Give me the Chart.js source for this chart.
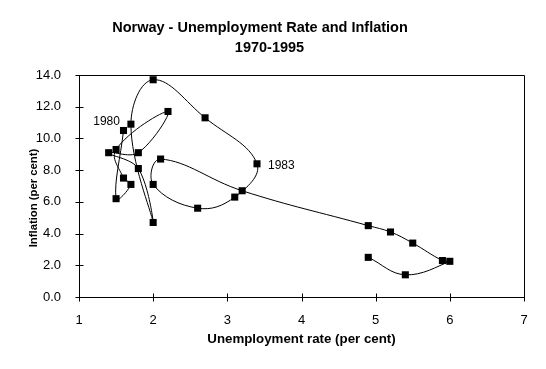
<!DOCTYPE html>
<html>
<head>
<meta charset="utf-8">
<script src="https://cdn.jsdelivr.net/npm/chart.js@4"></script>
<style>
html,body{margin:0;padding:0;background:#fff;}
#wrap{width:546px;height:369px;}
</style>
</head>
<body>
<div id="wrap"><canvas id="c" width="546" height="369"></canvas></div>
<script>
const years = [1970,1971,1972,1973,1974,1975,1976,1977,1978,1979,1980,1981,1982,1983,1984,1985,1986,1987,1988,1989,1990,1991,1992,1993,1994,1995];
const unemployment = [1.6,1.5,1.7,1.6,1.5,2.2,1.8,1.4,1.8,2.0,1.7,2.0,2.7,3.4,3.1,2.6,2.0,2.1,3.2,4.9,5.2,5.5,5.9,6.0,5.4,4.9];
const inflation = [10.5,6.2,7.1,7.5,9.3,11.7,9.1,9.1,8.1,4.7,10.9,13.7,11.3,8.4,6.3,5.6,7.1,8.7,6.7,4.5,4.1,3.4,2.3,2.25,1.4,2.5];
const labelledYears = [1980, 1983];
const xTicks = [1,2,3,4,5,6,7];
const yTicks = [0,2,4,6,8,10,12,14];
const titleLines = ["Norway - Unemployment Rate and Inflation", "1970-1995"];
const xTitle = "Unemployment rate (per cent)";
const yTitle = "Inflation (per cent)";

const points = years.map((y, i) => ({x: unemployment[i], y: inflation[i]}));
const FONT = "'Liberation Sans', Arial, sans-serif";

const decor = {
  id: 'decor',
  beforeDatasetsDraw(chart) {
    const ctx = chart.ctx;
    const xs = chart.scales.x, ys = chart.scales.y;
    const L = Math.round(xs.getPixelForValue(1)) + 0.5;
    const R = Math.round(xs.getPixelForValue(7)) + 0.5;
    const T = Math.round(ys.getPixelForValue(14)) + 0.5;
    const B = Math.round(ys.getPixelForValue(0)) + 0.5;
    ctx.save();
    ctx.strokeStyle = '#000';
    ctx.lineWidth = 1;
    ctx.beginPath();
    ctx.rect(L, T, R - L, B - T);
    xTicks.forEach(v => {
      const px = Math.round(xs.getPixelForValue(v)) + 0.5;
      ctx.moveTo(px, B - 4); ctx.lineTo(px, B + 4);
    });
    yTicks.forEach(v => {
      const py = Math.round(ys.getPixelForValue(v)) + 0.5;
      ctx.moveTo(L - 4, py); ctx.lineTo(L + 4, py);
    });
    ctx.stroke();
    ctx.restore();
  },
  afterDraw(chart) {
    const ctx = chart.ctx;
    const xs = chart.scales.x, ys = chart.scales.y;
    ctx.save();
    ctx.fillStyle = '#000';
    // title
    ctx.font = "bold 14.5px " + FONT;
    ctx.textAlign = 'center';
    ctx.textBaseline = 'alphabetic';
    ctx.fillText(titleLines[0], 260, 32);
    ctx.fillText(titleLines[1], 269.5, 52);
    // x title
    ctx.font = "bold 13.3px " + FONT;
    ctx.fillText(xTitle, (chart.chartArea.left + chart.chartArea.right) / 2, 343);
    // y title
    ctx.save();
    ctx.translate(37, 198);
    ctx.rotate(-Math.PI / 2);
    ctx.font = "bold 11.3px " + FONT;
    ctx.fillText(yTitle, 0, 0);
    ctx.restore();
    // year annotations
    ctx.font = "12px " + FONT;
    labelledYears.forEach(yr => {
      const i = years.indexOf(yr);
      const px = xs.getPixelForValue(unemployment[i]);
      const py = ys.getPixelForValue(inflation[i]);
      if (yr === 1980) {
        ctx.textAlign = 'right';
        ctx.fillText(String(yr), px - 11, py + 1);
      } else {
        ctx.textAlign = 'left';
        ctx.fillText(String(yr), px + 11, py + 5);
      }
    });
    ctx.restore();
  }
};

new Chart(document.getElementById('c'), {
  type: 'scatter',
  data: {
    datasets: [{
      data: points,
      showLine: true,
      tension: 0.4,
      borderColor: '#000',
      borderWidth: 1,
      pointStyle: 'rect',
      pointRadius: 5,
      pointBorderWidth: 0,
      pointBackgroundColor: '#000',
      pointBorderColor: '#000',
      fill: false
    }]
  },
  options: {
    responsive: false,
    animation: false,
    events: [],
    layout: {padding: {left: 0, top: 75, right: 22, bottom: 0}},
    plugins: {legend: {display: false}, tooltip: {enabled: false}, title: {display: false}},
    scales: {
      x: {
        type: 'linear', min: 1, max: 7,
        afterFit(s) { s.height = 72; },
        afterBuildTicks(s) { s.ticks = xTicks.map(v => ({value: v})); },
        grid: {display: false},
        border: {display: false},
        ticks: {padding: 8, color: '#000', font: {family: FONT, size: 13}, maxRotation: 0, callback: v => String(v)}
      },
      y: {
        type: 'linear', min: 0, max: 14,
        afterFit(s) { s.width = 79; },
        afterBuildTicks(s) { s.ticks = yTicks.map(v => ({value: v})); },
        grid: {display: false},
        border: {display: false},
        ticks: {padding: 10, color: '#000', font: {family: FONT, size: 13}, callback: v => Number(v).toFixed(1)}
      }
    }
  },
  plugins: [decor]
});
</script>
</body>
</html>
